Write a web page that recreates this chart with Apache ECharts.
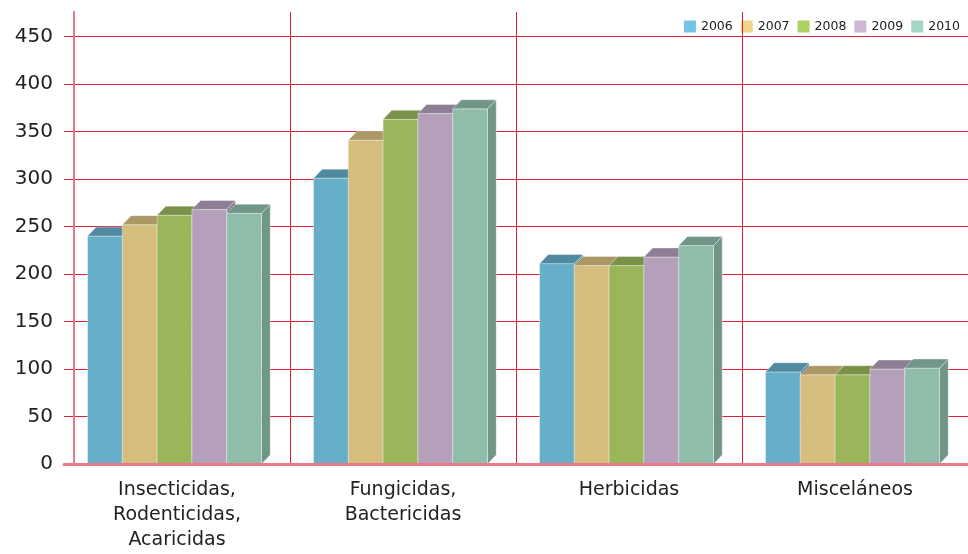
<!DOCTYPE html>
<html>
<head>
<meta charset="utf-8">
<script src="https://cdn.jsdelivr.net/npm/echarts@6/dist/echarts.min.js"></script>
<style>html,body{margin:0;padding:0;background:#fff}#c{width:968px;height:554px}</style>
</head>
<body>
<div id="c"></div>
<script>
const categories = ['Insecticidas,\nRodenticidas,\nAcaricidas', 'Fungicidas,\nBactericidas', 'Herbicidas', 'Misceláneos'];
const years = ['2006', '2007', '2008', '2009', '2010'];
const v2006 = [240, 301, 211, 97];
const v2007 = [252, 341, 209, 94];
const v2008 = [262, 363, 209, 94];
const v2009 = [268, 369, 218, 100];
const v2010 = [264, 374, 230, 101];
const yTicks = [0, 50, 100, 150, 200, 250, 300, 350, 400, 450];

const allValues = [v2006, v2007, v2008, v2009, v2010];
const legendColors = ['#72c5e8', '#f0d48b', '#aed166', '#ccb7d7', '#a5d5c5'];
const frontColors = ['#67aec9', '#d5bd7e', '#9bb55b', '#b4a0bb', '#90bcaa'];
const topColors = ['#4f8aa0', '#ac9866', '#7a9148', '#8f7f96', '#6f9686'];

function renderItem(params, api) {
  const ci = api.value(0), val = api.value(1);
  const base = api.coord([ci, 0]);
  const top = api.coord([ci, val]);
  const band = api.size([1, 0])[0];
  const w = band * 0.154;
  const s = params.seriesIndex;
  const x0 = base[0] - band * 0.011 + (s - 2.5) * w;
  const x1 = x0 + w;
  const yT = top[1], yB = base[1];
  const dx = w * 0.25, dy = -w * 0.26;
  return {
    type: 'group',
    children: [
      { type: 'polygon', shape: { points: [[x1, yT], [x1 + dx, yT + dy], [x1 + dx, yB + dy], [x1, yB]] },
        style: { fill: topColors[s], stroke: 'rgba(255,255,255,0.35)', lineWidth: 1 } },
      { type: 'rect', shape: { x: x0, y: yT, width: w, height: yB - yT },
        style: { fill: frontColors[s], stroke: 'rgba(255,255,255,0.35)', lineWidth: 1 } },
      { type: 'polygon', shape: { points: [[x0, yT], [x0 + dx, yT + dy], [x1 + dx, yT + dy], [x1, yT]] },
        style: { fill: topColors[s], stroke: 'rgba(255,255,255,0.35)', lineWidth: 1 } }
    ]
  };
}

const gridRed = '#e0203a';
const splitColors = yTicks.map(() => gridRed).concat(['rgba(0,0,0,0)']);

const chart = echarts.init(document.getElementById('c'), null, { renderer: 'canvas' });
chart.setOption({
  animation: false,
  backgroundColor: '#fff',
  textStyle: { fontFamily: 'DejaVu Sans' },
  legend: {
    data: years, top: 15, right: 3, itemWidth: 12, itemHeight: 12, itemGap: 8, icon: 'rect',
    textStyle: { fontSize: 12.5, color: '#222', fontFamily: 'DejaVu Sans' }
  },
  grid: { left: 64, right: -4, top: 12, bottom: 90, containLabel: false },
  xAxis: {
    type: 'category', data: categories, z: 10,
    axisLine: { lineStyle: { color: '#ea7a88', width: 3 } },
    axisTick: { show: false },
    splitLine: { show: true, lineStyle: { color: ['rgba(0,0,0,0)', gridRed, gridRed, gridRed, gridRed], width: 1 } },
    axisLabel: { interval: 0, fontSize: 19, lineHeight: 25, margin: 14, color: '#222', fontFamily: 'DejaVu Sans' }
  },
  yAxis: {
    type: 'value', min: 0, max: 476, interval: 50, offset: -10,
    axisLine: { show: true, lineStyle: { color: '#e8788a', width: 2 } },
    axisTick: { show: false },
    splitLine: { show: true, lineStyle: { color: splitColors, width: 1 } },
    axisLabel: { fontSize: 20, color: '#222', margin: 21, fontFamily: 'DejaVu Sans',
      formatter: v => (v > 450 ? '' : String(v)) }
  },
  series: years.map((y, s) => ({
    name: y, type: 'custom', renderItem: renderItem,
    itemStyle: { color: legendColors[s] },
    encode: { x: 0, y: 1 },
    data: categories.map((c, i) => [i, allValues[s][i]])
  }))
});
</script>
</body>
</html>
